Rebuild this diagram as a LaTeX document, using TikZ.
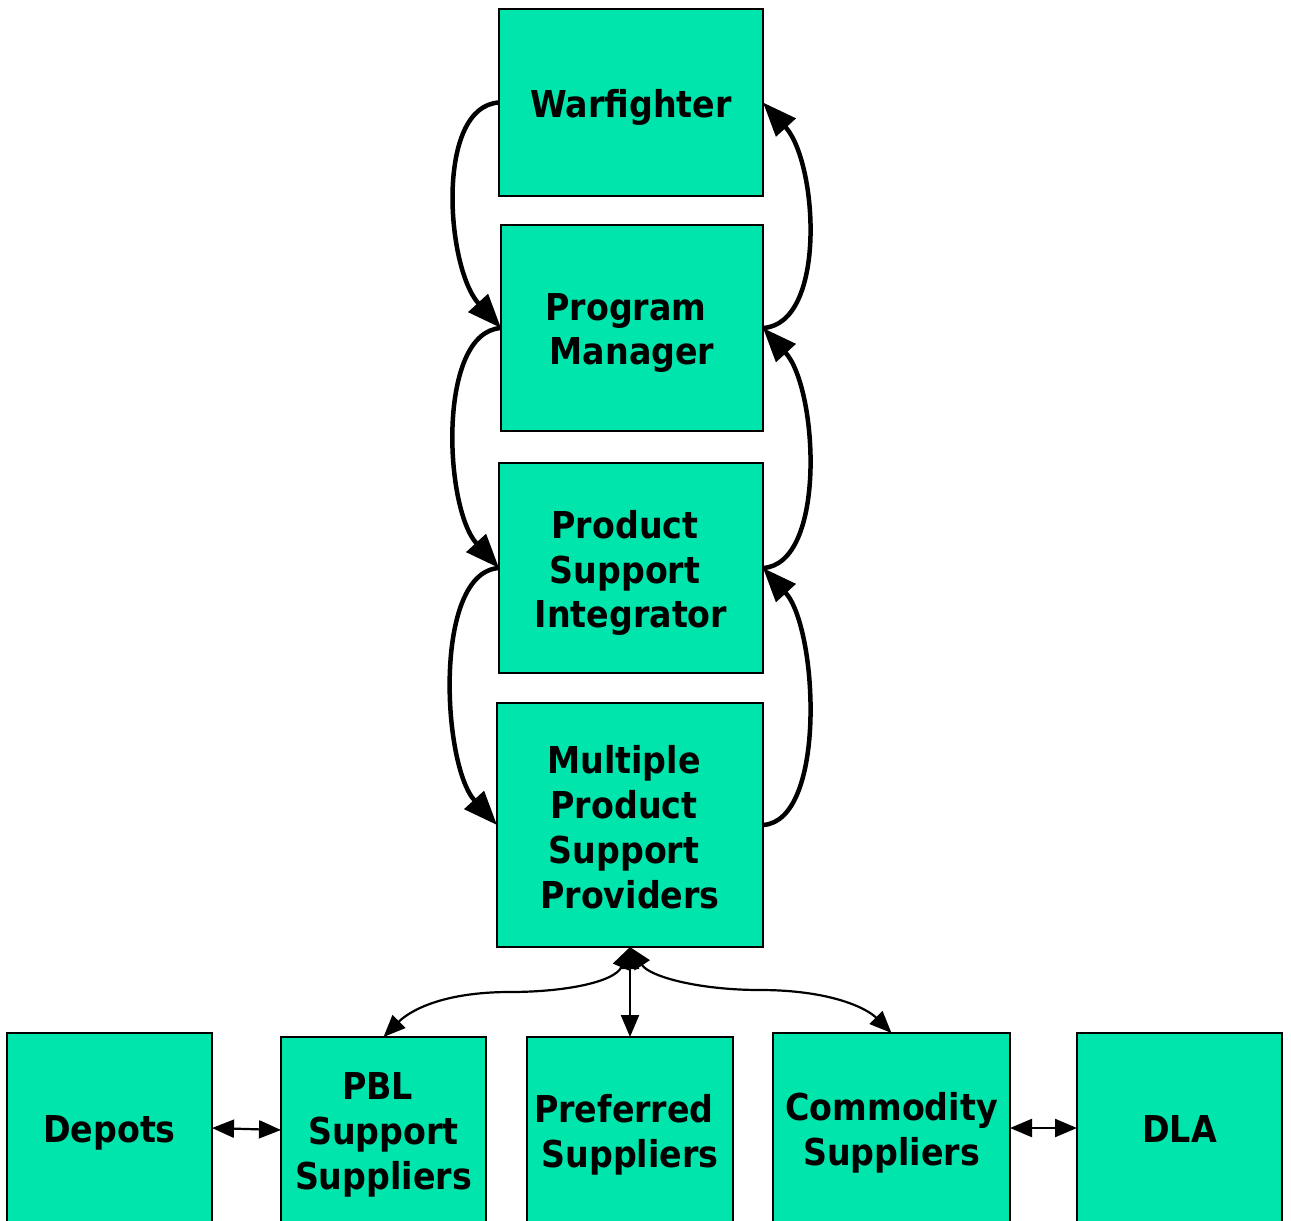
\documentclass[tikz,border=0pt]{standalone}
\usepackage{fontspec}
\newfontfamily\boxfont{DejaVuSansCondensed-Bold}[Extension=.ttf]
\usetikzlibrary{arrows.meta}
\definecolor{boxfill}{RGB}{0,229,172}
% trailing gap that keeps a line's text slightly left of centre
\newcommand{\trailgap}{\kern6pt}
\tikzset{
  box/.style={draw=black, line width=1pt, fill=boxfill, inner sep=0pt, outer sep=0pt},
  txt/.style={inner sep=0pt, align=center, font=\boxfont\fontsize{18.5}{22.4}\selectfont},
  loop/.style={line width=2.25pt, -{Triangle[length=17pt,width=13pt]}},
  link/.style={line width=1.1pt, {Triangle[length=11pt,width=9pt]}-{Triangle[length=11pt,width=9pt]}}
}
\begin{document}
\begin{tikzpicture}[x=0.5pt, y=-0.5pt]
\clip (0,0) rectangle (1291,1221);
\fill[white] (0,0) rectangle (1291,1221);

% chain of command
\node[box, minimum width=132pt, minimum height=93.5pt] (wf) at (631,102.5) {};
\node[box, minimum width=131pt, minimum height=103pt] (pm) at (632,328) {};
\node[box, minimum width=132pt, minimum height=105pt] (psi) at (631,568) {};
\node[box, minimum width=133pt, minimum height=122pt] (mpsp) at (630,825) {};
\node[txt] (wf-t) at ([yshift=-2.5pt]wf.center) {Warfighter};
\node[txt] (pm-t) at ([yshift=-2.5pt]pm.center) {Program\trailgap\\Manager};
\node[txt] (psi-t) at ([yshift=-2.5pt]psi.center) {Product\trailgap\\Support\trailgap\\Integrator};
\node[txt] (mpsp-t) at ([yshift=-1pt]mpsp.center) {Multiple\trailgap\\Product\trailgap\\Support\trailgap\\Providers};

% supplier row
\node[box, minimum width=102.5pt, minimum height=95pt] (dep) at (109.5,1128) {};
\node[box, minimum width=102.5pt, minimum height=93pt] (pbl) at (383.5,1130) {};
\node[box, minimum width=103pt, minimum height=93pt] (pref) at (630,1130) {};
\node[box, minimum width=118.5pt, minimum height=95pt] (com) at (891.5,1128) {};
\node[box, minimum width=102.5pt, minimum height=95pt] (dla) at (1179.5,1128) {};
\node[txt] (dep-t) at ([yshift=-2.5pt]dep.center) {Depots};
\node[txt] (pbl-t) at ([yshift=-2.5pt]pbl.center) {PBL\trailgap\\Support\\Suppliers};
\node[txt] (pref-t) at ([yshift=-2.5pt]pref.center) {Preferred\trailgap\\Suppliers};
\node[txt] (com-t) at ([yshift=-2.5pt]com.center) {Commodity\\Suppliers};
\node[txt] (dla-t) at ([yshift=-0.5pt]dla.center) {DLA};

% downward loops on the left
\draw[loop] (wf.west) .. controls +(-64,4) and +(-55,-60) .. (pm.west);
\draw[loop] (pm.west) .. controls +(-64,4) and +(-55,-60) .. (psi.west);
\draw[loop] (psi.west) .. controls +(-66,4) and +(-55,-60) .. (mpsp.west);

% upward loops on the right
\draw[loop] (mpsp.east) .. controls +(64,-4) and +(55,60) .. (psi.east);
\draw[loop] (psi.east) .. controls +(64,-4) and +(55,60) .. (pm.east);
\draw[loop] (pm.east) .. controls +(64,-4) and +(55,60) .. (wf.east);

% links to suppliers
\coordinate (lm) at (510,992);
\coordinate (rm) at (760,990);
\draw[link] (mpsp.south) .. controls +(-15,35) and +(55,0) .. (lm)
  .. controls +(-70,0) and +(25,-25) .. (pbl.north);
\draw[link] (mpsp.south) .. controls +(20,30) and +(-60,0) .. (rm)
  .. controls +(70,0) and +(-25,-25) .. (com.north);
\draw[link] (mpsp.south) -- (pref.north);
\draw[link] (dep.east) -- (pbl.west);
\draw[link] (com.east) -- (dla.west);
\end{tikzpicture}
\end{document}
